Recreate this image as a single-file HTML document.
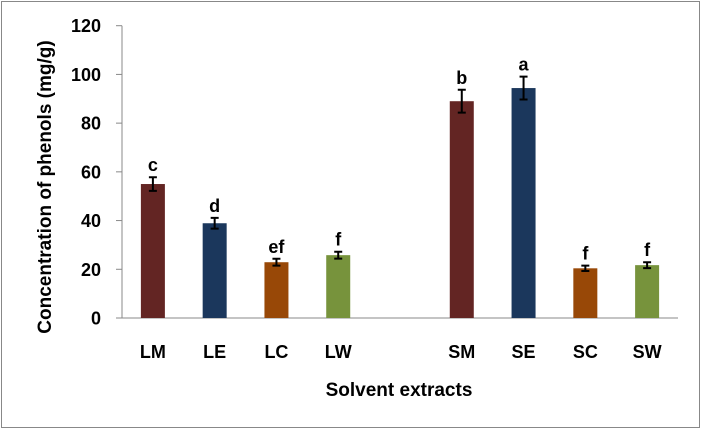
<!DOCTYPE html>
<html><head><meta charset="utf-8"><style>
body{margin:0;background:#fff;}
svg{display:block;font-family:"Liberation Sans",Arial,sans-serif;font-weight:bold;}
</style></head><body>
<svg id="chart" width="702" height="429">
<rect x="1.5" y="1.5" width="698" height="426" fill="#fff" stroke="#888" stroke-width="1"/>
<g id="plot"></g>
<text x="0" y="0" transform="translate(51,187) rotate(-90)" text-anchor="middle" font-size="19" fill="#000">Concentration of phenols (mg/g)</text>
<text x="399" y="396" text-anchor="middle" font-size="19" fill="#000">Solvent extracts</text>
</svg>
<script>
const categories=["LM","LE","LC","LW","","SM","SE","SC","SW"];
const values=[55,38.9,22.9,25.8,null,89,94.4,20.4,21.7];
const errors=[2.8,2.2,1.4,1.4,null,4.7,4.7,1.1,1.2];
const letters=["c","d","ef","f","","b","a","f","f"];
const colors=["#632523","#1b375c","#984807","#77933c","","#632523","#1b375c","#984807","#77933c"];
const yTicks=[0,20,40,60,80,100,120];
const NS="http://www.w3.org/2000/svg";
const g=document.getElementById('plot');
const x0=122,x1=678,yBase=318,yTop=25.7,yMax=120;
const slot=(x1-x0)/categories.length;
function xc(i){return x0+slot*(i+0.5);}
function ys(v){return yBase-(v/yMax)*(yBase-yTop);}
function mk(tag,attrs){const e=document.createElementNS(NS,tag);for(const k in attrs)e.setAttribute(k,attrs[k]);g.appendChild(e);return e;}
let ax=mk('line',{x1:x0,y1:yTop,x2:x0,y2:yBase,stroke:'#888','stroke-width':1});


let bx=mk('line',{x1:x0-6,y1:yBase,x2:x1,y2:yBase,stroke:'#888','stroke-width':1});


yTicks.forEach(t=>{
 const tk=mk('line',{x1:x0-6,y1:ys(t),x2:x0,y2:ys(t),stroke:'#888','stroke-width':1});
 
 
 const tl=mk('text',{x:x0-21,y:ys(t)+6.5,'text-anchor':'end','font-size':18,fill:'#000'});
 tl.textContent=t;
 
 
});
categories.forEach((c,i)=>{
 if(values[i]==null)return;
 const cx=xc(i),bw=24,top=ys(values[i]);
 const r=mk('rect',{x:cx-bw/2,y:top,width:bw,height:yBase-top,fill:colors[i]});
 
 
 const e1=ys(values[i]+errors[i]),e2=ys(values[i]-errors[i]);
 const el=mk('path',{d:`M${cx},${e1}V${e2}M${cx-4},${e1}H${cx+4}M${cx-4},${e2}H${cx+4}`,stroke:'#000','stroke-width':2,fill:'none'});
 
 
 const lt=mk('text',{x:cx,y:e1-6,'text-anchor':'middle','font-size':18,fill:'#000'});
 lt.textContent=letters[i];
 
 
 const xl=mk('text',{x:cx,y:358,'text-anchor':'middle','font-size':18,fill:'#000'});
 xl.textContent=c;
 
 
});
</script>
</body></html>
